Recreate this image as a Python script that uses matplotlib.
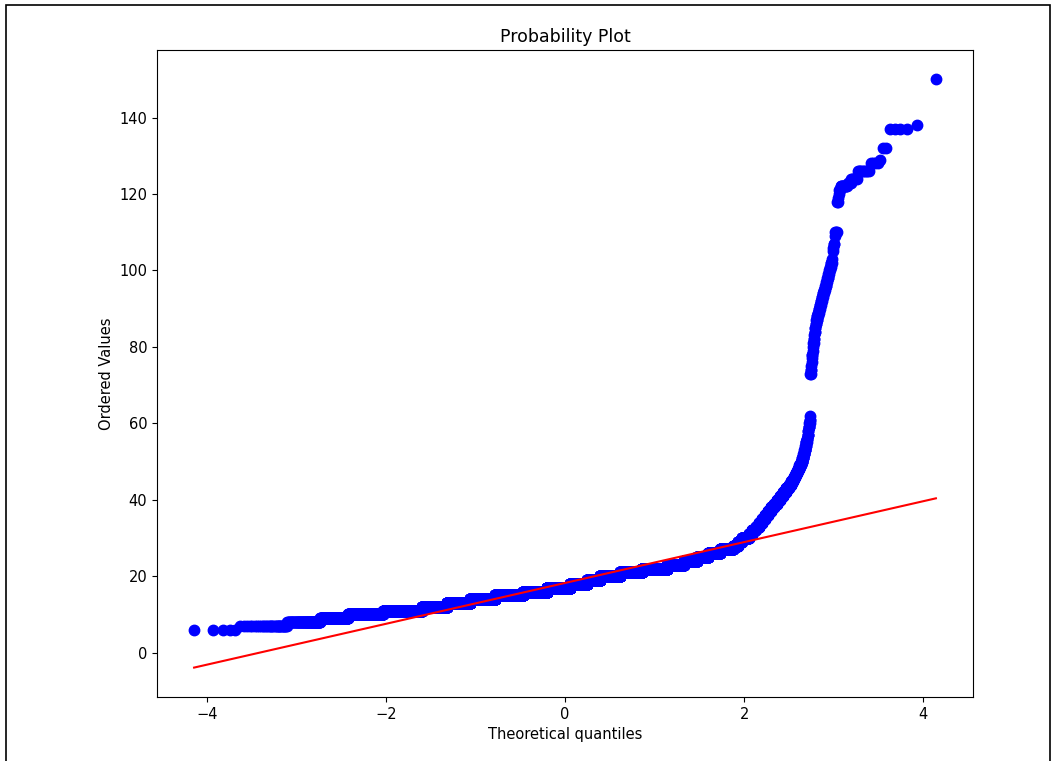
import numpy as np
import matplotlib
matplotlib.use("Agg")
import matplotlib.pyplot as plt
from matplotlib.patches import Rectangle
from statistics import NormalDist

# observed values and how many times each one occurs
values = [6, 7, 8, 9, 10, 11, 12, 13, 14, 15, 16, 17, 18, 19, 20,
          21, 22, 23, 24, 25, 26, 27, 28, 29, 30, 31, 32, 33, 34, 35,
          36, 37, 38, 39, 40, 41, 42, 43, 44, 45, 46, 47, 48, 49, 50,
          51, 52, 53, 54, 55, 56, 57, 58, 59, 60, 61, 62,
          73, 74, 75, 76, 77, 78, 79, 80, 81, 82, 83, 84, 85, 86, 87,
          88, 89, 90, 91, 92, 93, 94, 95, 96, 97, 98, 99, 100, 101, 102,
          103, 105, 106, 107, 109, 110, 118, 119, 120, 121, 122, 123,
          124, 126, 128, 129, 132, 137, 138, 150]
counts = [5, 33, 87, 185, 537, 1354, 1549, 2051, 2931, 4092, 3990, 4127, 3007, 2180, 3141,
          2935, 2710, 1383, 899, 616, 533, 453, 123, 105, 170, 72, 64, 58, 52, 48,
          43, 39, 36, 34, 32, 29, 25, 22, 19, 16, 14, 12, 11, 9, 7,
          6, 5, 5, 3, 4, 3, 3, 2, 3, 2, 2, 1,
          2, 2, 1, 1, 1, 2, 1, 1, 2, 2, 1, 2, 2, 2, 3,
          3, 3, 3, 3, 3, 3, 3, 3, 3, 2, 3, 2, 2, 2, 3,
          1, 1, 1, 2, 1, 3, 2, 1, 1, 2, 10, 4,
          6, 9, 4, 1, 2, 4, 1, 1]

data = np.repeat(values, counts).astype(float)
osr = np.sort(data)
n = len(osr)

# Filliben order statistic medians, like scipy.stats.probplot
m = (np.arange(1, n + 1) - 0.3175) / (n + 0.365)
m[-1] = 0.5 ** (1.0 / n)
m[0] = 1 - m[-1]
nd = NormalDist()
osm = np.array([nd.inv_cdf(p) for p in m])

slope, intercept = np.polyfit(osm, osr, 1)

fig = plt.figure(figsize=(10.57, 7.61), dpi=100)
ax = fig.add_axes([157 / 1057, 1 - 697 / 761, 816 / 1057, 647 / 761])

ax.plot(osm, osr, "bo", markersize=7.5)
ax.plot(osm, slope * osm + intercept, "r-", linewidth=1.5)

ax.set_title("Probability Plot", fontsize=12.5)
ax.set_xlabel("Theoretical quantiles", fontsize=10.5)
ax.set_ylabel("Ordered Values", fontsize=10.5)
ax.tick_params(labelsize=10.5)

# thin frame around the whole picture
fig.patches.append(Rectangle((6 / 1057, -0.01), 1044 / 1057, 1 - 5 / 761 + 0.01,
                             transform=fig.transFigure, fill=False,
                             edgecolor="black", linewidth=1.2))

fig.savefig("out.png", dpi=100)
plt.close(fig)
